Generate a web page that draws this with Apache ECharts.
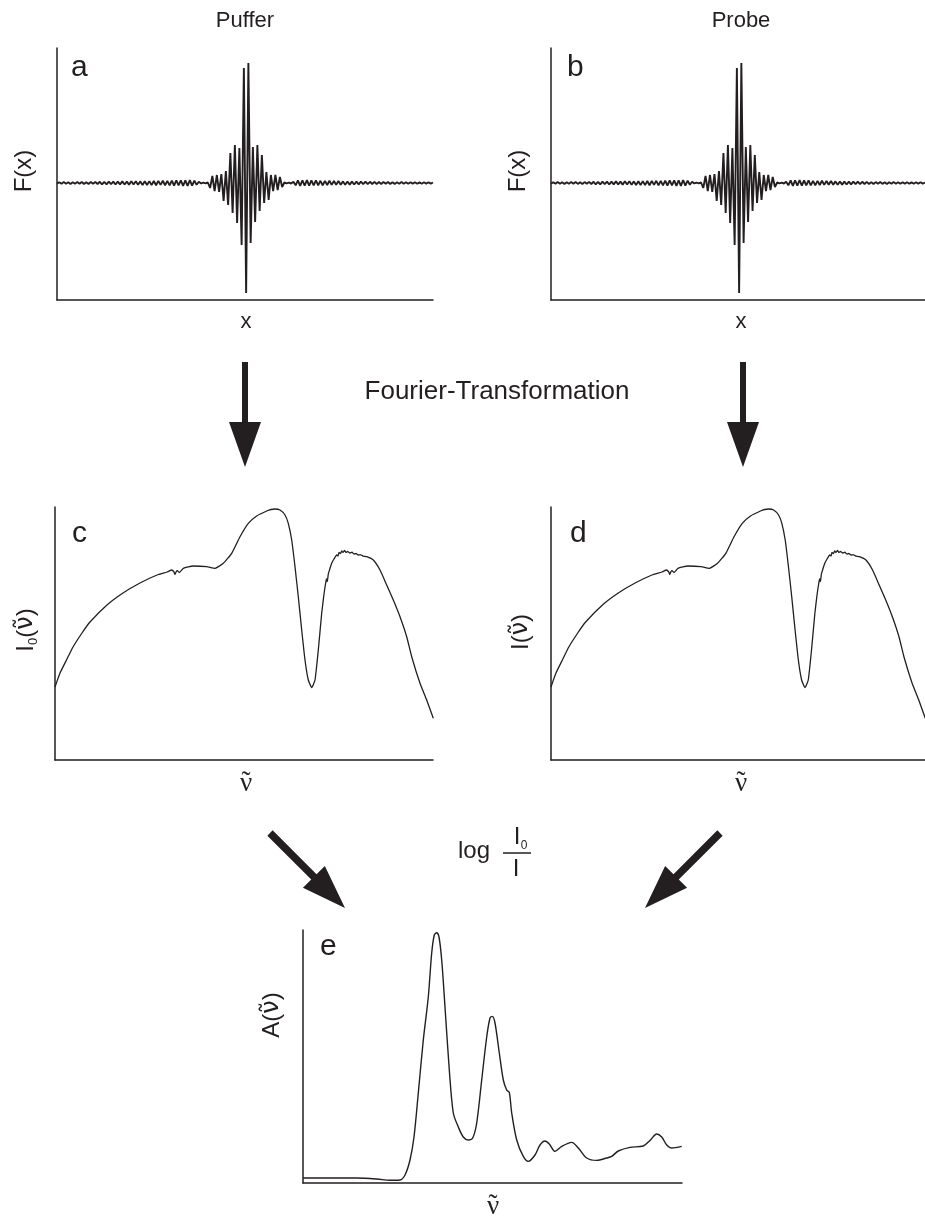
<!DOCTYPE html>
<html lang="de">
<head>
    <meta charset="UTF-8">
    <title>FTIR Schema</title>
    <style>
        body {
            margin: 0;
            padding: 0;
            background: #fff;
        }
        #chart {
            width: 925px;
            height: 1216px;
        }
    </style>
</head>
<body>
<div id="chart"></div>
<script src="https://cdn.jsdelivr.net/npm/echarts@6/dist/echarts.min.js"></script>
<script>
    // interferogram (a, b), one value per half period, centre burst at index 84
    const ifgValues = [
        -0.6, 0.8, -0.7, 0.9, -0.8, 0.7, -0.9, 0.8, -0.7, 0.9,
        -0.8, 1.0, -0.9, 0.8, -1.0, 0.9, -0.8, 1.1, -1.0, 1.2,
        -1.3, 1.2, -1.4, 1.3, -1.2, 1.4, -1.5, 1.3, -1.4, 1.6,
        -1.5, 1.4, -1.6, 1.7, -1.5, 1.8, -1.7, 1.6, -1.9, 1.8,
        -2.0, 1.9, -2.1, 2.0, -2.2, 2.1, -1.9, 2.2, -2.3, 2.1,
        -2.4, 2.3, -2.5, 2.6, -2.4, 2.7, -2.8, 2.6, -2.9, 2.8,
        -2.6, 2.4, -1.8, 1.2,
        -0.4, 0.3, -0.3, 0.5,
        -5, 7, -8, 8, -9, 9, -18, 12, -22, 30, -30, 38, -40, 35, -62, 115,
        -110,
        120, -60, 36, -39, 38, -28, 28, -20, 11, -17, 8, -8, 8, -7, 6, -4,
        0.5, -0.3, 0.4, -0.5,
        1.3, -2.3, 2.7, -2.8, 2.6, -2.7, 2.8, -2.6, 2.5, -2.4,
        2.6, -2.3, 2.2, -2.4, 2.1, -2.0, 2.2, -1.9, 2.0, -1.8,
        1.9, -1.7, 1.6, -1.8, 1.5, -1.6, 1.4, -1.5, 1.3, -1.4,
        1.3, -1.2, 1.4, -1.1, 1.2, -1.0, 1.1, -1.0, 0.9, -1.0,
        0.9, -0.8, 1.0, -0.9, 0.8, -0.9, 0.7, -0.8, 0.9, -0.7,
        0.8, -0.7, 0.8, -0.6, 0.7, -0.8, 0.6, -0.7, 0.7, -0.6,
        0.7, -0.6, 0.5
    ];

    // single beam spectrum (c, d)
    const specX = [
        0, 5, 12, 18, 27, 35, 52, 68, 85, 102,
        112, 116.7, 119, 120, 121.3, 122.3, 124.3, 128.3, 138.3,
        151.7, 160, 168.3, 176.7, 185, 193.3, 201.7, 211.7, 216, 220,
        225, 230, 233.3, 236.7, 240, 243.3, 246.7, 250, 253.3, 256.7,
        260, 263.3, 266.7, 269, 270.5, 271.5, 272.3, 273.3, 274.5, 276.7,
        279, 281.7, 283, 284, 285.5, 286.7, 288, 289.5, 291, 292.5,
        295, 297, 299, 301, 303.3, 306, 308, 311.7, 318.3, 325,
        331.7, 338.3, 345, 351.7, 356.7, 365, 371.7, 378.3
    ];
    const specY = [
        73, 87, 101, 113, 127, 138, 155, 167, 177, 185,
        188, 190, 188, 185.5, 188.5, 189.3, 187.5, 191.7, 194,
        193.3, 191.7, 196.7, 206.7, 223.3, 236.7, 244, 249, 250.5, 251,
        250, 245, 236.7, 220, 193.3, 163.3, 130, 100, 80, 72.3,
        80, 110, 146.7, 166, 176, 181, 178.5, 186, 190, 196.7,
        201, 205, 204, 207.5, 206.5, 209, 207.5, 209.5, 207.5, 208.5,
        207, 207.8, 206, 206.5, 205, 205.2, 203.8, 203.3, 200, 190,
        175, 160, 143.3, 123.3, 103.3, 76.7, 60, 41.7
    ];

    // absorbance spectrum (e)
    const absX = [
        0, 54, 74, 87, 97, 102, 107, 111, 115.3, 120.3,
        125.3, 128.7, 131.3, 133.7, 136, 138.7, 142, 146.3, 150.3, 155.3,
        160.3, 165.3, 169.7, 173.7, 178.7, 183.7, 187, 189.3, 192, 196.3,
        200.3, 203.7, 206.3, 208.7, 213.7, 220.3, 225.3, 232, 237, 242,
        246.3, 252, 258.7, 268.7, 275.3, 283.7, 293.7, 303.7, 308.7, 315.3,
        327, 340.3, 347, 353.7, 358.7, 363.7, 368.7, 378.7
    ];
    const absY = [
        5, 5, 4, 2.7, 3, 8, 23, 46, 90, 143,
        186, 230, 248, 250.3, 246, 223, 176, 113, 70, 56,
        46, 43, 45, 60, 103, 146, 165, 166.6, 160, 130,
        103, 93, 90.6, 70, 43, 26.6, 21.6, 28, 38, 42,
        39, 31.6, 36.6, 40.6, 35, 25, 22.6, 25, 26.6, 32,
        35.6, 37, 42.6, 49, 46, 38, 35, 36.6
    ];

    const ink = "#231f20";
    const sans = "Liberation Sans, Arial, sans-serif";
    const serif = "Liberation Serif, Times New Roman, serif";
    const nu = "\u03BD\u0303";

    const chart = echarts.init(document.getElementById("chart"), null, {renderer: "canvas"});

    const grids = [
        {left: 57, top: 48, width: 376, height: 252},
        {left: 551, top: 48, width: 376, height: 252},
        {left: 55, top: 507, width: 378, height: 253},
        {left: 551, top: 507, width: 378, height: 253},
        {left: 303, top: 930, width: 379, height: 253}
    ];

    const axisLine = {show: true, onZero: false, lineStyle: {color: ink, width: 1.5}};
    const bare = {
        axisLine,
        axisTick: {show: false},
        axisLabel: {show: false},
        splitLine: {show: false}
    };

    const ifgIndex = ifgValues.map((v, i) => i);

    const xAxes = [
        Object.assign({gridIndex: 0, type: "category", data: ifgIndex, boundaryGap: false}, bare),
        Object.assign({gridIndex: 1, type: "category", data: ifgIndex, boundaryGap: false}, bare),
        Object.assign({gridIndex: 2, type: "value", min: 0, max: 378}, bare),
        Object.assign({gridIndex: 3, type: "value", min: 0, max: 378}, bare),
        Object.assign({gridIndex: 4, type: "value", min: 0, max: 379}, bare)
    ];
    const yAxes = [
        Object.assign({gridIndex: 0, type: "value", min: -117, max: 135}, bare),
        Object.assign({gridIndex: 1, type: "value", min: -117, max: 135}, bare),
        Object.assign({gridIndex: 2, type: "value", min: 0, max: 253}, bare),
        Object.assign({gridIndex: 3, type: "value", min: 0, max: 253}, bare),
        Object.assign({gridIndex: 4, type: "value", min: 0, max: 253}, bare)
    ];

    const specData = specX.map((x, i) => [x, specY[i]]);
    const absData = absX.map((x, i) => [x, absY[i]]);

    function line(idx, data, width, smooth) {
        return {
            type: "line",
            xAxisIndex: idx,
            yAxisIndex: idx,
            data,
            symbol: "none",
            smooth,
            silent: true,
            lineStyle: {color: ink, width}
        };
    }

    function arrow(x1, y1, x2, y2, shaft, headLen, headW) {
        const len = Math.hypot(x2 - x1, y2 - y1);
        const ux = (x2 - x1) / len, uy = (y2 - y1) / len;
        const nx = -uy, ny = ux;
        const bx = x2 - ux * headLen, by = y2 - uy * headLen;
        return {
            type: "polygon",
            silent: true,
            shape: {
                points: [
                    [x1 + nx * shaft / 2, y1 + ny * shaft / 2],
                    [bx + nx * shaft / 2, by + ny * shaft / 2],
                    [bx + nx * headW / 2, by + ny * headW / 2],
                    [x2, y2],
                    [bx - nx * headW / 2, by - ny * headW / 2],
                    [bx - nx * shaft / 2, by - ny * shaft / 2],
                    [x1 - nx * shaft / 2, y1 - ny * shaft / 2]
                ]
            },
            style: {fill: ink}
        };
    }

    function text(x, y, str, size, opts) {
        opts = opts || {};
        return {
            type: "text",
            x, y,
            rotation: opts.rotate ? Math.PI / 2 : 0,
            silent: true,
            style: {
                text: str,
                fill: ink,
                fontSize: size,
                fontFamily: opts.family || sans,
                align: opts.align || "center",
                verticalAlign: "middle",
                rich: opts.rich
            }
        };
    }

    // wavenumber symbol under the spectra: nu with a tilde laid over it
    function nuLabel(x, y) {
        return [
            text(x, y + 2, "\u03BD", 27, {family: serif}),
            text(x, y + 1, "\u02DC", 27, {family: serif})
        ];
    }

    const richNu = {
        m: {fontSize: 24, fontFamily: sans, fill: ink, lineHeight: 28},
        s: {fontSize: 13, fontFamily: sans, fill: ink, verticalAlign: "bottom", lineHeight: 14},
        n: {fontSize: 24, fontFamily: "DejaVu Sans", fill: ink, lineHeight: 28}
    };

    const option = {
        backgroundColor: "#fff",
        animation: false,
        grid: grids,
        xAxis: xAxes,
        yAxis: yAxes,
        series: [
            line(0, ifgValues, 1.9, false),
            line(1, ifgValues, 1.9, false),
            line(2, specData, 1.3, 0.15),
            line(3, specData, 1.3, 0.15),
            line(4, absData, 1.4, 0.3)
        ],
        graphic: [
            text(245, 21, "Puffer", 22),
            text(741, 21, "Probe", 22),
            text(71, 68, "a", 30, {align: "left"}),
            text(567, 68, "b", 30, {align: "left"}),
            text(72, 534, "c", 30, {align: "left"}),
            text(570, 534, "d", 30, {align: "left"}),
            text(320, 947, "e", 30, {align: "left"}),
            text(24, 171, "F(x)", 24, {rotate: true}),
            text(518, 171, "F(x)", 24, {rotate: true}),
            text(246, 322, "x", 22),
            text(741, 322, "x", 22),
            text(26, 630, "{m|I}{s|0}{m|(}{n|" + nu + "}{m|)}", 24, {rotate: true, rich: richNu}),
            text(521, 632, "{m|I(}{n|" + nu + "}{m|)}", 24, {rotate: true, rich: richNu}),
            text(272, 1015, "{m|A(}{n|" + nu + "}{m|)}", 24, {rotate: true, rich: richNu}),
            ...nuLabel(246, 782),
            ...nuLabel(741, 782),
            ...nuLabel(493, 1205),
            text(497, 392, "Fourier-Transformation", 26),
            text(458, 851, "log", 24, {align: "left"}),
            text(517, 837, "I", 24),
            text(524, 846, "0", 12),
            {
                type: "line",
                silent: true,
                shape: {x1: 503, y1: 853, x2: 531, y2: 853},
                style: {stroke: ink, lineWidth: 1.5}
            },
            text(516, 869, "I", 24),
            arrow(245, 362, 245, 467, 6, 45, 32),
            arrow(743, 362, 743, 467, 6, 45, 32),
            arrow(270, 833, 345, 908, 7.5, 44, 31),
            arrow(720, 833, 645, 908, 7.5, 44, 31)
        ]
    };

    chart.setOption(option);
</script>
</body>
</html>
